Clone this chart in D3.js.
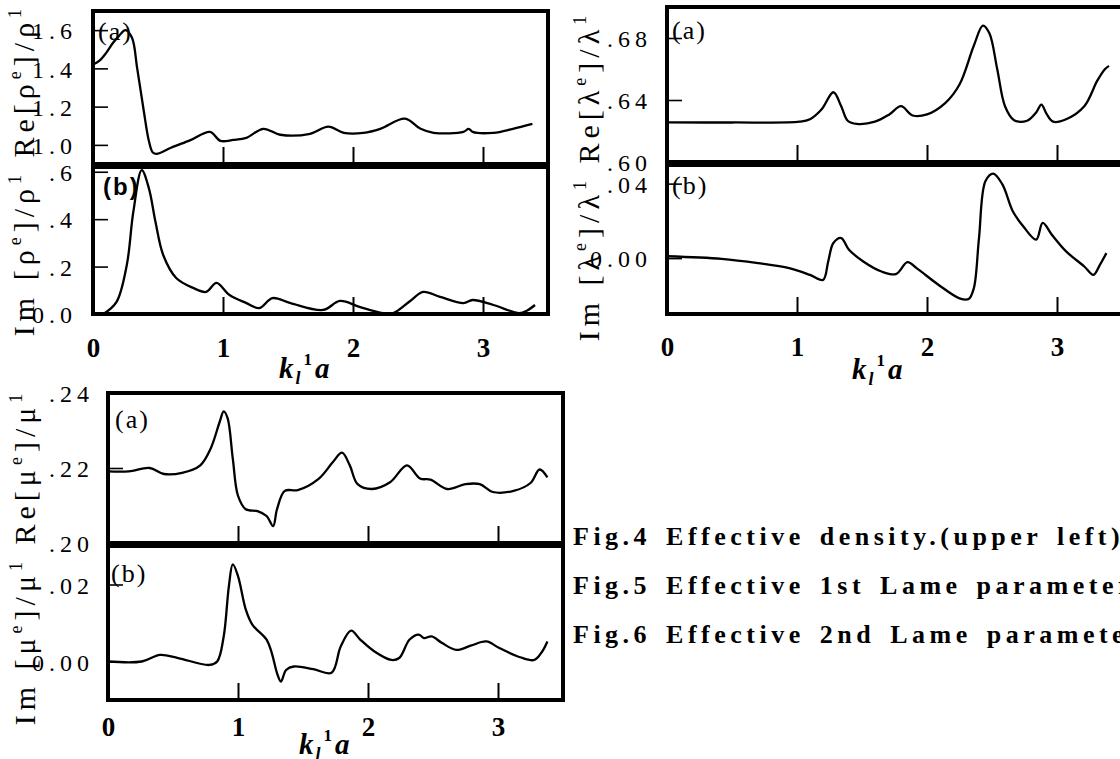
<!DOCTYPE html>
<html><head><meta charset="utf-8">
<script src="https://d3js.org/d3.v7.min.js"></script>
<style>
html,body{margin:0;padding:0;background:#fff;overflow:hidden}
svg{display:block}
text{fill:#000}
</style></head>
<body>
<script>
// ---------- DATA ----------
const xTickVals = [0, 1, 2, 3];
const xTickLabels = ["0", "1", "2", "3"];

// Fig.4 (upper left) effective density
const rhoReX = [0, 0.05, 0.10, 0.15, 0.20, 0.25, 0.30, 0.34, 0.39, 0.43, 0.46, 0.49, 0.60, 0.75, 0.90, 0.98, 1.08, 1.18, 1.31, 1.44, 1.67, 1.81, 1.93, 2.08, 2.21, 2.40, 2.52, 2.62, 2.85, 2.89, 2.92, 3.08, 3.23, 3.38];
const rhoReY = [1.42, 1.44, 1.48, 1.53, 1.57, 1.60, 1.56, 1.40, 1.18, 1.02, 0.96, 0.953, 0.985, 1.025, 1.068, 1.021, 1.026, 1.037, 1.084, 1.053, 1.058, 1.095, 1.063, 1.063, 1.084, 1.137, 1.084, 1.063, 1.068, 1.084, 1.068, 1.063, 1.084, 1.11];
const rhoImX = [0.08, 0.18, 0.26, 0.31, 0.375, 0.43, 0.48, 0.54, 0.64, 0.77, 0.87, 0.95, 1.05, 1.18, 1.28, 1.38, 1.52, 1.77, 1.90, 2.05, 2.23, 2.31, 2.44, 2.54, 2.67, 2.85, 2.92, 3.08, 3.28, 3.34, 3.40];
const rhoImY = [0, 0.05, 0.207, 0.43, 0.607, 0.53, 0.39, 0.249, 0.152, 0.11, 0.093, 0.131, 0.08, 0.046, 0.025, 0.067, 0.046, 0.017, 0.055, 0.03, 0.004, 0.004, 0.055, 0.093, 0.072, 0.046, 0.059, 0.038, 0.004, 0.015, 0.038];
const rhoReTicks = [1.0, 1.2, 1.4, 1.6], rhoReTickLabels = ["1.0", "1.2", "1.4", "1.6"];
const rhoImTicks = [0, 0.2, 0.4, 0.6], rhoImTickLabels = ["0.0", ".2", ".4", ".6"];

// Fig.5 (upper right) effective 1st Lame parameter
const lamReX = [0, 0.5, 1.02, 1.10, 1.19, 1.28, 1.34, 1.39, 1.46, 1.60, 1.71, 1.80, 1.89, 2.00, 2.14, 2.25, 2.36, 2.43, 2.48, 2.54, 2.60, 2.67, 2.77, 2.84, 2.88, 2.92, 2.97, 3.07, 3.21, 3.31, 3.37, 3.40];
const lamReY = [0.6256, 0.6255, 0.626, 0.6276, 0.634, 0.645, 0.636, 0.6266, 0.6246, 0.626, 0.6307, 0.636, 0.630, 0.6307, 0.638, 0.650, 0.675, 0.688, 0.683, 0.660, 0.636, 0.627, 0.6266, 0.632, 0.637, 0.631, 0.626, 0.6276, 0.636, 0.6525, 0.660, 0.662];
const lamImX = [0, 0.42, 0.70, 0.94, 1.10, 1.20, 1.24, 1.28, 1.34, 1.40, 1.51, 1.65, 1.76, 1.85, 1.92, 2.09, 2.25, 2.32, 2.36, 2.40, 2.45, 2.51, 2.58, 2.66, 2.74, 2.84, 2.89, 2.96, 3.07, 3.21, 3.28, 3.33, 3.38];
const lamImY = [0.001, -0.0004, -0.0027, -0.0054, -0.009, -0.0117, -0.0018, 0.0081, 0.0108, 0.0045, -0.0018, -0.0072, -0.0086, -0.0022, -0.0054, -0.0144, -0.0216, -0.022, -0.0162, 0.0108, 0.0414, 0.0454, 0.0396, 0.0252, 0.0171, 0.0099, 0.0189, 0.0126, 0.0036, -0.0045, -0.009, -0.0036, 0.0027];
const lamReTicks = [0.60, 0.64, 0.68], lamReTickLabels = [".60", ".64", ".68"];
const lamImTicks = [0.00, 0.04], lamImTickLabels = ["0.00", ".04"];

// Fig.6 (lower left) effective 2nd Lame parameter
const muReX = [0, 0.16, 0.32, 0.43, 0.57, 0.71, 0.79, 0.86, 0.89, 0.92, 0.96, 1.00, 1.06, 1.15, 1.22, 1.27, 1.30, 1.36, 1.46, 1.62, 1.73, 1.80, 1.86, 1.92, 2.03, 2.17, 2.30, 2.40, 2.48, 2.61, 2.75, 2.86, 2.96, 3.12, 3.25, 3.32, 3.38];
const muReY = [0.2191, 0.2191, 0.2200, 0.2184, 0.2187, 0.2207, 0.2252, 0.2324, 0.2351, 0.2333, 0.2225, 0.2126, 0.2090, 0.2085, 0.2072, 0.2045, 0.2090, 0.2139, 0.2141, 0.2171, 0.2216, 0.2241, 0.2207, 0.2157, 0.2144, 0.2162, 0.2207, 0.2172, 0.2169, 0.2144, 0.2157, 0.2157, 0.2136, 0.2139, 0.2160, 0.2196, 0.2175];
const muImX = [0, 0.26, 0.40, 0.54, 0.78, 0.84, 0.89, 0.93, 0.96, 1.00, 1.06, 1.11, 1.22, 1.26, 1.30, 1.33, 1.37, 1.43, 1.58, 1.72, 1.79, 1.87, 1.94, 2.05, 2.18, 2.24, 2.32, 2.39, 2.43, 2.49, 2.57, 2.68, 2.79, 2.91, 3.01, 3.17, 3.28, 3.34, 3.38];
const muImY = [0, 0, 0.0017, 0.0009, -0.0009, 0, 0.0065, 0.0196, 0.0252, 0.0222, 0.0135, 0.0096, 0.0057, 0.0022, -0.0030, -0.0052, -0.0022, -0.0013, -0.0020, -0.0029, 0.0039, 0.0080, 0.0057, 0.0026, 0.0004, 0.0009, 0.0057, 0.0070, 0.0061, 0.0065, 0.0048, 0.0030, 0.0041, 0.0052, 0.0035, 0.0011, 0.0004, 0.0026, 0.0052];
const muReTicks = [0.20, 0.22, 0.24], muReTickLabels = [".20", ".22", ".24"];
const muImTicks = [0.00, 0.02], muImTickLabels = ["0.00", ".02"];

const captions = [
  "Fig.4 Effective density.(upper left)",
  "Fig.5 Effective 1st Lame parameter.(upper right)",
  "Fig.6 Effective 2nd Lame parameter.(lower left)"
];

// ---------- DRAW ----------
const SERIF = "Liberation Serif, Times New Roman, serif";
const svg = d3.select("body").append("svg").attr("width", 1120).attr("height", 759);

function subPanel(o) {
  const x = d3.scaleLinear().domain([0, 3.5]).range([o.left, o.left + 455]);
  const y = d3.scaleLinear().domain(o.yDom).range([o.bottom, o.top]);
  const g = svg.append("g");
  const pts = o.xs.map((v, i) => [v, o.ys[i]]);
  g.append("path").datum(pts)
    .attr("fill", "none").attr("stroke", "#000").attr("stroke-width", 2.3)
    .attr("stroke-linejoin", "round")
    .attr("d", d3.line().x(d => x(d[0])).y(d => y(d[1])).curve(d3.curveCatmullRom.alpha(0.5)));
  const xa = g.append("g").attr("transform", `translate(0,${o.bottom})`)
    .call(d3.axisBottom(x).tickValues([1, 2, 3]).tickSize(-17).tickFormat(""));
  xa.select(".domain").remove();
  xa.selectAll("line").attr("stroke", "#000").attr("stroke-width", 2);
  const ya = g.append("g").attr("transform", `translate(${o.left},0)`)
    .call(d3.axisLeft(y).tickValues(o.ticks).tickSize(-15).tickPadding(o.pad)
      .tickFormat((d, i) => o.tickLabels[i]));
  ya.select(".domain").remove();
  ya.selectAll("line").attr("stroke", "#000").attr("stroke-width", 1.6);
  ya.selectAll("text").attr("font-family", SERIF).attr("font-size", 24)
    .attr("letter-spacing", 5).attr("fill", "#000").attr("dy", "0.36em");
  g.append("rect").attr("x", o.left).attr("y", o.top)
    .attr("width", 455).attr("height", o.bottom - o.top)
    .attr("fill", "none").attr("stroke", "#000").attr("stroke-width", 4);
  g.append("text").attr("x", o.left + o.lab[0]).attr("y", o.lab[1])
    .attr("font-family", o.labSans ? "Liberation Sans, Arial, sans-serif" : SERIF)
    .attr("font-weight", o.labSans ? "bold" : "normal")
    .attr("font-size", o.labSans ? 24 : 26).attr("letter-spacing", 2)
    .text(o.label);
  return x;
}

function xAxisLabels(x, yBase, kX, kBase) {
  const g = svg.append("g").attr("transform", `translate(0,${yBase})`)
    .call(d3.axisBottom(x).tickValues(xTickVals).tickSize(0).tickPadding(0)
      .tickFormat((d, i) => xTickLabels[i]));
  g.select(".domain").remove();
  g.selectAll("text").attr("font-family", SERIF).attr("font-size", 27)
    .attr("font-weight", "bold").attr("fill", "#000").attr("dy", 0);
  const t = svg.append("text").attr("x", kX).attr("y", kBase)
    .attr("font-family", SERIF).attr("font-weight", "bold").attr("font-size", 29);
  t.append("tspan").attr("font-style", "italic").text("k");
  t.append("tspan").attr("font-style", "italic").attr("font-size", 18).attr("dx", 2).attr("dy", 6).text("l");
  t.append("tspan").attr("font-size", 17).attr("dx", 3).attr("dy", -19).text("1");
  t.append("tspan").attr("font-style", "italic").attr("dx", 3).attr("dy", 13).text("a");
}

function yLabel(xBase, yc, sym) {
  const t = svg.append("text")
    .attr("transform", `translate(${xBase},${yc}) rotate(-90)`)
    .attr("text-anchor", "middle").attr("font-family", SERIF)
    .attr("font-size", 30).attr("letter-spacing", 5);
  const parts = [["Im [", 0], [sym, 0], ["e", 1], ["]/", 0], [sym, 0], ["1", 1],
                 [" Re[", 0], [sym, 0], ["e", 1], ["]/", 0], [sym, 0], ["1", 1]];
  let up = false;
  parts.forEach(([s, sup]) => {
    const sp = t.append("tspan").text(s);
    if (sup && !up) { sp.attr("font-size", 18).attr("dy", -13); up = true; }
    else if (!sup && up) { sp.attr("dy", 13); up = false; }
    else if (sup) sp.attr("font-size", 18);
  });
}

// Fig.4 upper left
const xTL = subPanel({left: 93, top: 11, bottom: 164, yDom: [0.9, 1.7], xs: rhoReX, ys: rhoReY,
  ticks: rhoReTicks, tickLabels: rhoReTickLabels, pad: 16, label: "(a)", lab: [5, 40]});
subPanel({left: 93, top: 167, bottom: 314, yDom: [0, 0.62], xs: rhoImX, ys: rhoImY,
  ticks: rhoImTicks, tickLabels: rhoImTickLabels, pad: 16, label: "(b)", lab: [10, 195], labSans: true});
xAxisLabels(xTL, 357, 279, 378);
yLabel(34, 170, "ρ");

// Fig.5 upper right
const xTR = subPanel({left: 667, top: 7, bottom: 162, yDom: [0.60, 0.70], xs: lamReX, ys: lamReY,
  ticks: lamReTicks, tickLabels: lamReTickLabels, pad: 15, label: "(a)", lab: [5, 39]});
subPanel({left: 667, top: 165, bottom: 314, yDom: [-0.03, 0.05], xs: lamImX, ys: lamImY,
  ticks: lamImTicks, tickLabels: lamImTickLabels, pad: 15, label: "(b)", lab: [5, 194]});
xAxisLabels(xTR, 356, 852, 379);
yLabel(599, 176, "λ");

// Fig.6 lower
const xB = subPanel({left: 108, top: 393, bottom: 543, yDom: [0.20, 0.24], xs: muReX, ys: muReY,
  ticks: muReTicks, tickLabels: muReTickLabels, pad: 14, label: "(a)", lab: [7, 428]});
subPanel({left: 108, top: 546, bottom: 700, yDom: [-0.01, 0.03], xs: muImX, ys: muImY,
  ticks: muImTicks, tickLabels: muImTickLabels, pad: 14, label: "(b)", lab: [3, 582]});
xAxisLabels(xB, 736, 299, 754);
yLabel(35, 557, "μ");

// captions
const capY = [545, 594, 643];
captions.forEach((c, i) => {
  svg.append("text").attr("x", 573).attr("y", capY[i])
    .attr("font-family", SERIF).attr("font-weight", "bold")
    .attr("font-size", 26).attr("letter-spacing", 4.5).attr("word-spacing", 4)
    .text(c);
});
</script>
</body></html>
